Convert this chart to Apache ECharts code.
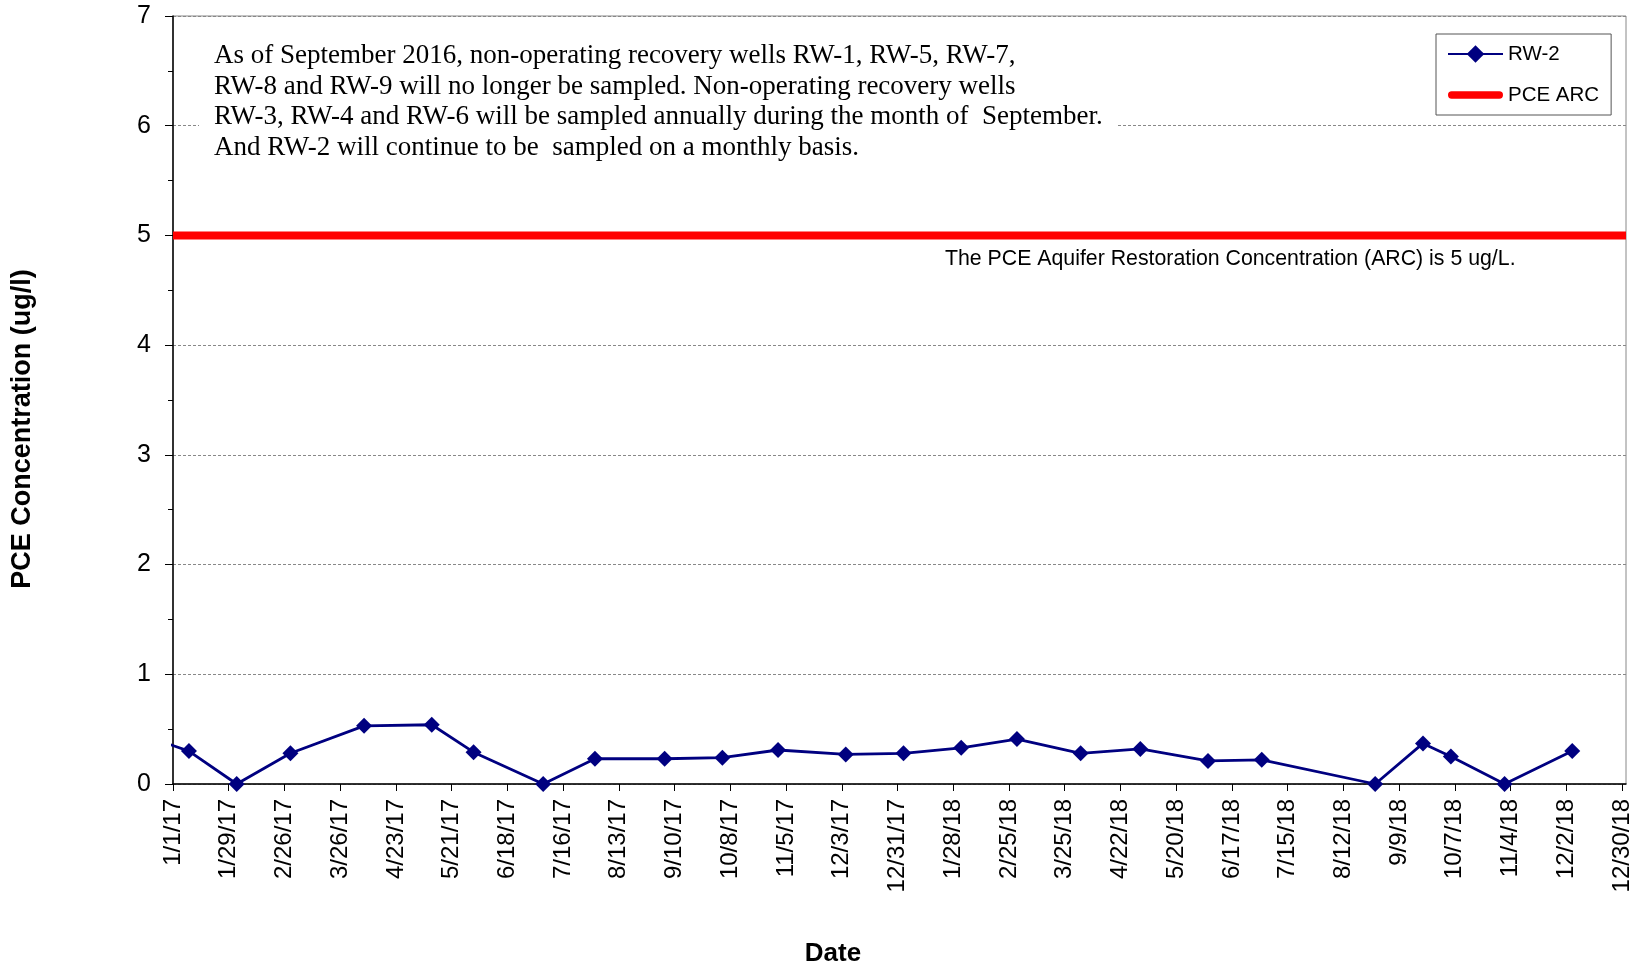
<!DOCTYPE html>
<html>
<head>
<meta charset="utf-8">
<script src="https://cdn.jsdelivr.net/npm/echarts@6/dist/echarts.min.js"></script>
<style>
html,body{margin:0;padding:0;background:#fff;}
#chart{width:1638px;height:968px;}
</style>
</head>
<body>
<div id="chart"></div>
<script>
// ---- data ----
const sampleDates = ['12/5/16','1/9/17','2/2/17','3/1/17','4/7/17','5/11/17','6/1/17','7/6/17','8/1/17','9/5/17','10/4/17','11/1/17','12/5/17','1/3/18','2/1/18','3/1/18','4/2/18','5/2/18','6/5/18','7/2/18','8/28/18','9/21/18','10/5/18','11/1/18','12/5/18'];
const rw2Values = [0.52,0.30,0,0.28,0.53,0.54,0.29,0,0.23,0.23,0.24,0.31,0.27,0.28,0.33,0.41,0.28,0.32,0.21,0.22,0,0.37,0.25,0,0.30];
const tickLabels = ['1/1/17','1/29/17','2/26/17','3/26/17','4/23/17','5/21/17','6/18/17','7/16/17','8/13/17','9/10/17','10/8/17','11/5/17','12/3/17','12/31/17','1/28/18','2/25/18','3/25/18','4/22/18','5/20/18','6/17/18','7/15/18','8/12/18','9/9/18','10/7/18','11/4/18','12/2/18','12/30/18'];
const axisStart = '1/1/17';
const axisEnd = '1/1/19';
const arcValue = 5;
const noteLines = [
  'As of September 2016, non-operating recovery wells RW-1, RW-5, RW-7,',
  'RW-8 and RW-9 will no longer be sampled. Non-operating recovery wells',
  'RW-3, RW-4 and RW-6 will be sampled annually during the month of  September.',
  'And RW-2 will continue to be  sampled on a monthly basis.'
];
const arcNote = 'The PCE Aquifer Restoration Concentration (ARC) is 5 ug/L.';

// ---- helpers ----
function toUTC(s){const p=s.split('/').map(Number);return Date.UTC(2000+p[2],p[0]-1,p[1]);}
const t0 = toUTC(axisStart);
function toDay(s){return Math.round((toUTC(s)-t0)/86400000);}
const dayLabel = {};
tickLabels.forEach(l=>{dayLabel[toDay(l)] = l;});
const tickDays = tickLabels.map(toDay);
const maxDay = toDay(axisEnd);

const rw2Data = sampleDates.map((d,i)=>[toDay(d), rw2Values[i]]);
const arcData = [[0,arcValue],[maxDay,arcValue]];

const chart = echarts.init(document.getElementById('chart'));
const sans = '"Liberation Sans", Arial, sans-serif';
const serif = '"Liberation Serif", "Times New Roman", serif';

chart.setOption({
  animation:false,
  backgroundColor:'#fff',
  grid:{left:173,right:12,top:16,bottom:184,show:true,borderColor:'#888',borderWidth:1,backgroundColor:'transparent'},
  xAxis:{
    type:'value',min:0,max:maxDay,
    axisLine:{onZero:false,lineStyle:{color:'#000',width:1.5}},
    axisTick:{show:true,length:7,lineStyle:{color:'#000'},customValues:tickDays},
    axisLabel:{rotate:90,margin:15,fontSize:24,fontFamily:sans,color:'#000',customValues:tickDays,
      formatter:v=>dayLabel[Math.round(v)]||''},
    splitLine:{show:false}
  },
  yAxis:{
    type:'value',min:0,max:7,interval:1,
    axisLine:{show:true,lineStyle:{color:'#000',width:1.5}},
    axisTick:{show:true,length:8,lineStyle:{color:'#000'}},
    minorTick:{show:true,splitNumber:2,length:5,lineStyle:{color:'#000'}},
    axisLabel:{margin:22,fontSize:25,fontFamily:sans,color:'#000'},
    splitLine:{show:true,lineStyle:{color:'#888',width:1,type:[3,2]}}
  },
  legend:{
    orient:'vertical',left:1436,top:34,
    padding:[9,12,9,11],itemGap:19,itemWidth:55,itemHeight:22,
    borderColor:'#555',borderWidth:1,backgroundColor:'#fff',
    textStyle:{fontSize:20.5,fontFamily:sans,color:'#000',lineHeight:22},
    data:[
      {name:'RW-2'},
      {name:'PCE ARC',icon:'path://M4,0 H56 A4,4 0 0 1 56,8 H4 A4,4 0 0 1 4,0 Z',itemStyle:{color:'#ff0000'}}
    ]
  },
  series:[
    {name:'PCE ARC',type:'line',data:arcData,symbol:'none',silent:true,
      lineStyle:{color:'#ff0000',width:8,cap:'butt'},itemStyle:{color:'#ff0000'},z:2},
    {name:'RW-2',type:'line',data:rw2Data,symbol:'diamond',symbolSize:16,clip:true,
      lineStyle:{color:'#000080',width:2.8},itemStyle:{color:'#000080'},z:3}
  ],
  graphic:[
    {type:'rect',z:50,shape:{x:199,y:32,width:918,height:130},style:{fill:'#fff'}},
    {type:'text',z:51,left:214,top:41,style:{text:noteLines.join('\n'),font:'27px '+serif,fill:'#000',lineHeight:30.5}},
    {type:'text',z:51,left:945,top:249,style:{text:arcNote,font:'21.3px '+sans,fill:'#000'}},
    {type:'text',z:51,x:23,y:429,rotation:Math.PI/2,style:{text:'PCE Concentration (ug/l)',font:'bold 27px '+sans,fill:'#000',align:'center',verticalAlign:'middle'}},
    {type:'text',z:51,x:833,y:954,style:{text:'Date',font:'bold 26px '+sans,fill:'#000',align:'center',verticalAlign:'middle'}}
  ]
});
</script>
</body>
</html>
